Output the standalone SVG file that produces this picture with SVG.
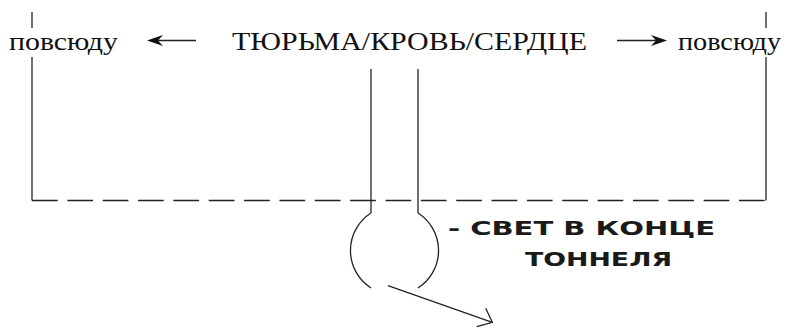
<svg xmlns="http://www.w3.org/2000/svg" width="790" height="328" viewBox="0 0 790 328">
<style>
.t{font-family:"Liberation Serif","Times New Roman",serif;font-size:26px;fill:#111}
.h{font-family:"DejaVu Sans","Liberation Sans",sans-serif;font-weight:bold;font-size:20px;fill:#1a1a1a}
.ln{stroke:#222;stroke-width:1.3;fill:none}
.ah{fill:#111;stroke:none}
</style>
<rect width="790" height="328" fill="#fff"/>
<g id="left-node"><text class="t" x="9" y="50" textLength="109" lengthAdjust="spacingAndGlyphs">повсюду</text></g>
<g id="center-node"><text class="t" x="232" y="50" textLength="355" lengthAdjust="spacingAndGlyphs">ТЮРЬМА/КРОВЬ/СЕРДЦЕ</text></g>
<g id="right-node"><text class="t" x="678" y="50" textLength="103" lengthAdjust="spacingAndGlyphs">повсюду</text></g>
<g id="tunnel-node">
<path class="ln" d="M371,213 A44.5,44.5 0 0 0 371,288"/>
<path class="ln" d="M418,213 A44.5,44.5 0 0 1 418,288"/>
</g>
<g id="label-node">
<text class="h" x="448" y="235" textLength="267" lengthAdjust="spacingAndGlyphs">- СВЕТ В КОНЦЕ</text>
<text class="h" x="525" y="266" textLength="147" lengthAdjust="spacingAndGlyphs">ТОННЕЛЯ</text>
</g>
<g id="connectors">
<line class="ln" x1="32" y1="12" x2="32" y2="28"/>
<line class="ln" x1="32" y1="57" x2="32" y2="200.5"/>
<line class="ln" x1="766" y1="12" x2="766" y2="28"/>
<line class="ln" x1="766" y1="57" x2="766" y2="200.5"/>
<line class="ln" x1="32" y1="200.5" x2="766" y2="200.5" stroke-dasharray="25.7 9.65"/>
<line class="ln" x1="371" y1="69" x2="371" y2="213"/>
<line class="ln" x1="418" y1="69" x2="418" y2="213"/>
<line class="ln" x1="156" y1="40.5" x2="196" y2="40.5"/>
<path class="ah" d="M147,40.5 L163,35 L158,40.5 L163,46 Z"/>
<line class="ln" x1="617" y1="40.5" x2="658" y2="40.5"/>
<path class="ah" d="M667,40.5 L651,35 L656,40.5 L651,46 Z"/>
<line class="ln" x1="388" y1="285.7" x2="492.3" y2="322.3"/>
<path class="ln" d="M485.7,308.3 L492.3,322.3 L476.7,326.7"/>
</g>
</svg>
